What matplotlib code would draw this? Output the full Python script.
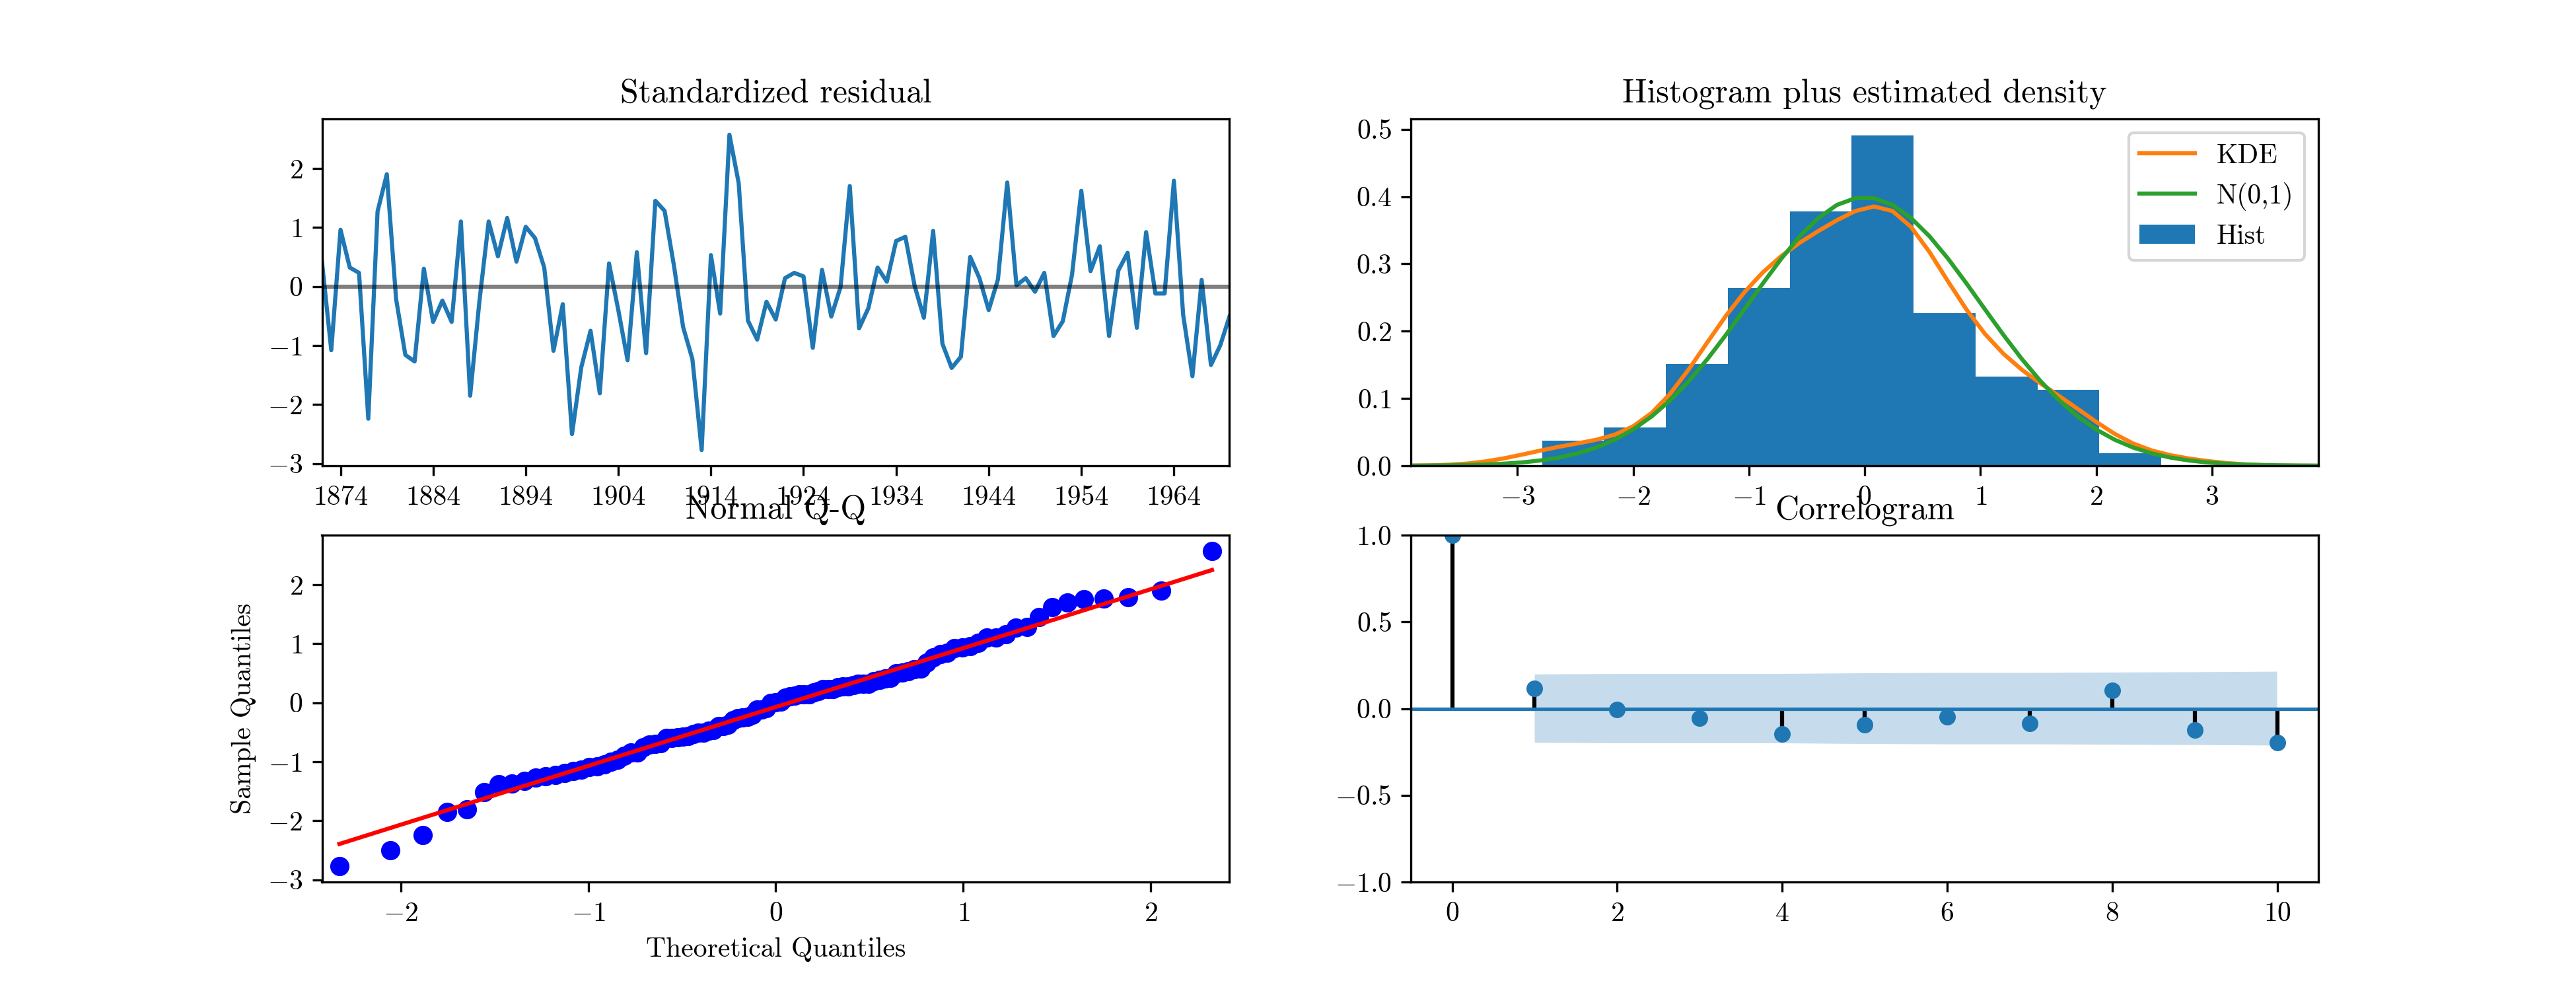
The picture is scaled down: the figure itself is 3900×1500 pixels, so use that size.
import numpy as np
import matplotlib
matplotlib.use('Agg')
import matplotlib.pyplot as plt
from statistics import NormalDist

# Computer Modern look, like the LaTeX rendered original
plt.rcParams['font.family'] = 'cmr10'
plt.rcParams['mathtext.fontset'] = 'cm'
plt.rcParams['axes.formatter.use_mathtext'] = True

# Standardized residuals, 1872-1970
years = np.arange(1872, 1971)
resid = [0.41, -1.08, 0.96, 0.32, 0.23, -2.24, 1.27, 1.90, -0.21, -1.16,
         -1.27, 0.30, -0.60, -0.24, -0.60, 1.10, -1.85, -0.25, 1.10, 0.51,
         1.16, 0.42, 1.01, 0.82, 0.32, -1.09, -0.30, -2.50, -1.37, -0.75,
         -1.81, 0.39, -0.40, -1.25, 0.58, -1.13, 1.45, 1.28, 0.36, -0.69,
         -1.23, -2.77, 0.53, -0.46, 2.57, 1.75, -0.58, -0.90, -0.26, -0.56,
         0.14, 0.23, 0.17, -1.04, 0.28, -0.51, -0.01, 1.70, -0.71, -0.37,
         0.32, 0.08, 0.77, 0.84, 0.01, -0.53, 0.94, -0.97, -1.38, -1.19,
         0.50, 0.14, -0.40, 0.12, 1.76, 0.02, 0.14, -0.09, 0.23, -0.84,
         -0.59, 0.20, 1.62, 0.26, 0.68, -0.84, 0.27, 0.57, -0.70, 0.92,
         -0.12, -0.12, 1.79, -0.48, -1.52, 0.11, -1.33, -1.00, -0.51]
year_ticks = list(range(1874, 1970, 10))

# Histogram bins and counts
hist_edges = [-2.787, -2.252, -1.717, -1.182, -0.647, -0.112,
              0.423, 0.958, 1.493, 2.028, 2.563]
hist_counts = [2, 3, 8, 14, 20, 26, 12, 7, 6, 1]

# Correlogram
acf_lags = np.arange(11)
acf_vals = [1.0, 0.116, -0.007, -0.055, -0.146, -0.092, -0.047, -0.084, 0.106, -0.122, -0.195]
conf_band = [0.197, 0.200, 0.200, 0.200, 0.204, 0.206, 0.206, 0.208, 0.210, 0.213]

resid = np.array(resid)
n = len(resid)

fig, axes = plt.subplots(2, 2, figsize=(13, 5))

# Standardized residual
ax = axes[0, 0]
ax.plot(years, resid)
ax.hlines(0, years[0], years[-1], color='k', alpha=0.5)
ax.set_xlim(years[0], years[-1])
ax.set_xticks(year_ticks)
ax.set_xticklabels([str(y) for y in year_ticks])
ax.set_title('Standardized residual')

# Histogram plus estimated density
ax = axes[0, 1]
centers = [(a + b) / 2 for a, b in zip(hist_edges[:-1], hist_edges[1:])]
xlim = (-1.96 * 2, 1.96 * 2)
x = np.linspace(xlim[0], xlim[1])
h = resid.std(ddof=1) * n ** (-1 / 5)
kde = np.exp(-0.5 * ((x[:, None] - resid[None, :]) / h) ** 2).sum(axis=1) / (n * h * np.sqrt(2 * np.pi))
npdf = np.array([NormalDist().pdf(v) for v in x])
ax.plot(x, kde, color='C1', label='KDE')
ax.plot(x, npdf, color='C2', label='N(0,1)')
ax.hist(centers, bins=hist_edges, weights=hist_counts, density=True, color='C0', label='Hist')
ax.set_xlim(xlim)
ax.legend()
ax.set_title('Histogram plus estimated density')

# Normal Q-Q
ax = axes[1, 0]
theo = np.array([NormalDist().inv_cdf(i / (n + 1)) for i in range(1, n + 1)])
sample = np.sort(resid)
ax.plot(theo, sample, marker='o', markerfacecolor='b', markeredgecolor='b', linestyle='None')
ax.plot(theo, sample.mean() + sample.std() * theo, 'r-')
ax.set_xmargin(0.02)
ax.set_xlabel('Theoretical Quantiles')
ax.set_ylabel('Sample Quantiles')
ax.set_title('Normal Q-Q')

# Correlogram
ax = axes[1, 1]
ax.vlines(acf_lags, [0], acf_vals, colors='k')
ax.axhline(0, linewidth=1.25)
ax.plot(acf_lags, acf_vals, marker='o', markersize=5, linestyle='None')
ax.fill_between(acf_lags[1:], -np.array(conf_band), conf_band, alpha=0.25, linewidth=0)
ax.set_xlim(-0.5, 10.5)
ax.set_ylim(-1, 1)
ax.set_title('Correlogram')

plt.savefig('out.png', dpi=300)
